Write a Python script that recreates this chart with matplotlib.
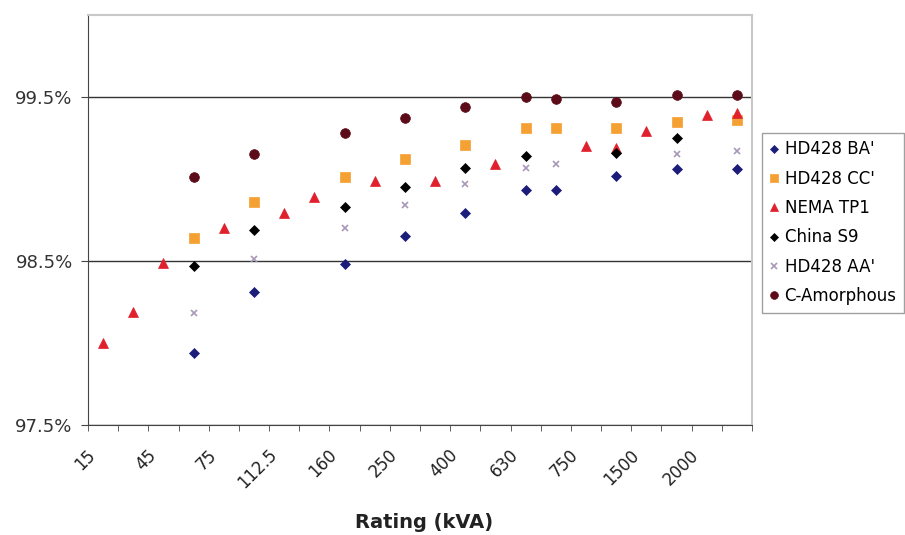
import numpy as np
import matplotlib.pyplot as plt
from matplotlib.ticker import FixedLocator, NullFormatter

nan = np.nan

# categories on the x axis (only every other one is labelled)
ratings = ["15", "30", "45", "50", "75", "100", "112.5", "150", "160", "225", "250",
           "300", "400", "500", "630", "630", "750", "1000", "1500", "1600", "2000", "2500"]

# efficiency (%) per category, NaN where the series has no point
hd428_ba = [nan, nan, nan, 97.94, nan, 98.31, nan, nan, 98.48, nan, 98.65,
            nan, 98.79, nan, 98.93, 98.93, nan, 99.02, nan, 99.06, nan, 99.06]
hd428_cc = [nan, nan, nan, 98.64, nan, 98.86, nan, nan, 99.01, nan, 99.12,
            nan, 99.21, nan, 99.31, 99.31, nan, 99.31, nan, 99.35, nan, 99.36]
nema_tp1 = [98.00, 98.19, 98.49, nan, 98.70, nan, 98.79, 98.89, nan, 98.99, nan,
            98.99, nan, 99.09, nan, nan, 99.20, 99.19, 99.29, nan, 99.39, 99.40]
china_s9 = [nan, nan, nan, 98.47, nan, 98.69, nan, nan, 98.83, nan, 98.95,
            nan, 99.07, nan, 99.14, nan, nan, 99.16, nan, 99.25, nan, nan]
hd428_aa = [nan, nan, nan, 98.18, nan, 98.51, nan, nan, 98.70, nan, 98.84,
            nan, 98.97, nan, 99.07, 99.09, nan, nan, nan, 99.15, nan, 99.17]
c_amorph = [nan, nan, nan, 99.01, nan, 99.15, nan, nan, 99.28, nan, 99.37,
            nan, 99.44, nan, 99.50, 99.49, nan, 99.47, nan, 99.51, nan, 99.51]

series = [
    ("HD428 BA'", hd428_ba, "D", "#1c1c7a", 5.5),
    ("HD428 CC'", hd428_cc, "s", "#f5a032", 6.5),
    ("NEMA TP1", nema_tp1, "^", "#e0202c", 7.5),
    ("China S9", china_s9, "D", "#000000", 5.5),
    ("HD428 AA'", hd428_aa, "x", "#a898b8", 5),
    ("C-Amorphous", c_amorph, "o", "#5c0c18", 7),
]

plt.rcParams["font.family"] = ["DejaVu Sans"]

fig = plt.figure(figsize=(9.05, 5.35), dpi=100)
ax = fig.add_axes([88 / 905, 1 - 425 / 535, (752 - 88) / 905, (425 - 15) / 535])

x = np.arange(len(ratings))
for name, vals, mk, col, ms in series:
    ax.plot(x, vals, linestyle="none", marker=mk, color=col, markersize=ms,
            markeredgewidth=1.2 if mk == "x" else 0.5, label=name)

ax.set_xlim(-0.5, len(ratings) - 0.5)
ax.set_ylim(97.5, 100.0)

# tick marks on category boundaries, no tick labels from the axis itself
ax.set_xticks([])
ax.xaxis.set_minor_locator(FixedLocator(np.arange(-0.5, len(ratings), 1.0)))
ax.xaxis.set_minor_formatter(NullFormatter())
ax.tick_params(axis="x", which="minor", length=4, direction="out", color="#444444")

# every other category labelled, rotated text ends a little left of the centre
for i in x[::2]:
    ax.annotate(ratings[i], xy=(i, 0), xycoords=("data", "axes fraction"),
                xytext=(-12, -15), textcoords="offset points",
                rotation=45, ha="right", va="top", rotation_mode="anchor",
                fontsize=12, color="#222222")

ax.set_yticks([97.5, 98.5, 99.5])
ax.set_yticklabels(["97.5%", "98.5%", "99.5%"], fontsize=13)
ax.tick_params(axis="y", length=5, direction="out", color="#444444",
               labelcolor="#333333", pad=6)
ax.yaxis.grid(True, color="#333333", linewidth=1)
ax.set_axisbelow(True)

for side in ["top", "right"]:
    ax.spines[side].set_color("#c8c8c8")
    ax.spines[side].set_linewidth(1.5)
for side in ["left", "bottom"]:
    ax.spines[side].set_color("#444444")

fig.text(424 / 905, 1 - 522 / 535, "Rating (kVA)", fontsize=14, fontweight="bold",
         ha="center", va="center", color="#222222")

leg = fig.legend(loc="upper left", bbox_to_anchor=(762 / 905, 1 - 133 / 535),
                 frameon=True, fancybox=False, edgecolor="#888888",
                 prop={"size": 12}, handlelength=0.5, handletextpad=0.4,
                 labelspacing=0.68, borderpad=0.45, borderaxespad=0, markerscale=0.8)
leg.get_frame().set_linewidth(1)

plt.savefig("out.png", dpi=100)
